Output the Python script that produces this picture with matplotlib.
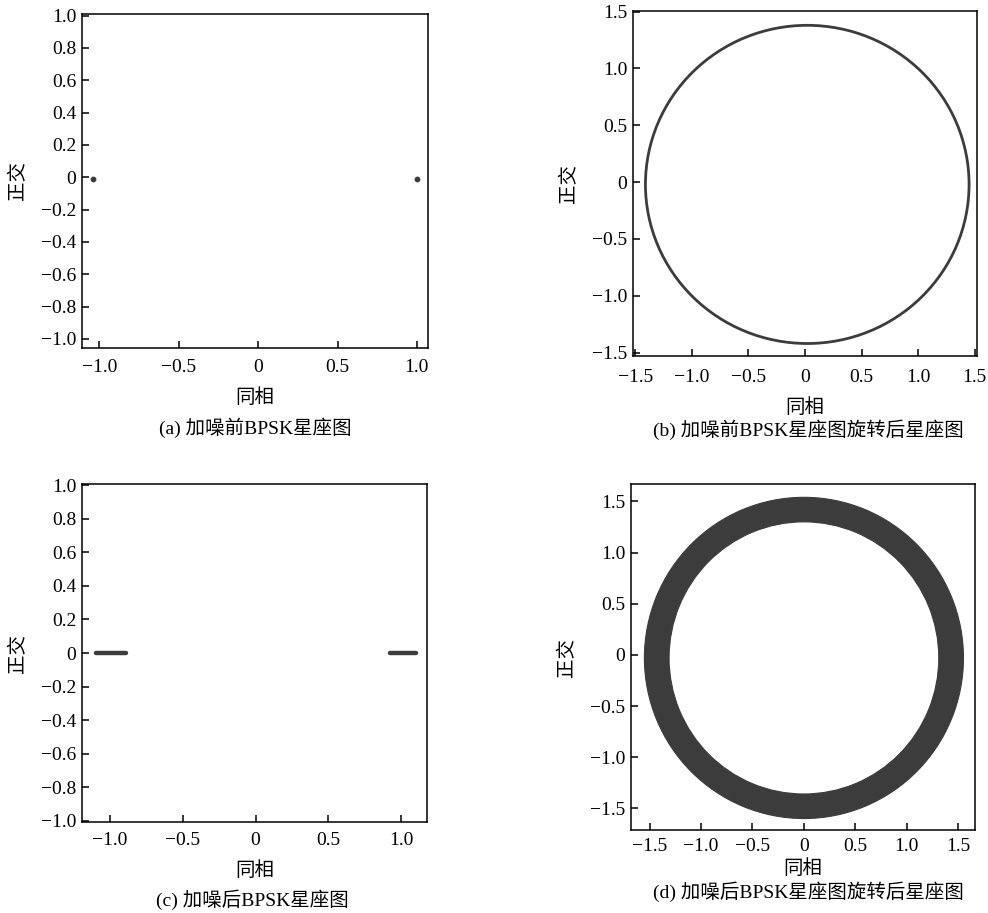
import numpy as np
import matplotlib
matplotlib.use("Agg")
import matplotlib.pyplot as plt
from matplotlib.patches import Ellipse, Annulus

plt.rcParams['font.family'] = ['Liberation Serif', 'Noto Sans CJK SC']
plt.rcParams['axes.unicode_minus'] = True

# (a) constellation points before noise
a_i = [-1.04, 1.00]
a_q = [-0.01, -0.01]

# (b) rotated constellation (ring): centre and radii
b_center = (0.02, -0.02)
b_radius = (1.43, 1.40)

# (c) noisy constellation: horizontal spread of each cluster
c_clusters = [(-1.09, -0.89), (0.92, 1.10)]
c_q = 0.0

# (d) noisy rotated constellation: annulus
d_center = (0.0, -0.03)
d_outer = (1.55, 1.57)
d_width = 0.24

xlabel = "同相"
ylabel = "正交"
captions = ["(a) 加噪前BPSK星座图", "(b) 加噪前BPSK星座图旋转后星座图",
            "(c) 加噪后BPSK星座图", "(d) 加噪后BPSK星座图旋转后星座图"]

ticks_1 = [-1.0, -0.5, 0, 0.5, 1.0]
ticks_1_lbl = ["\u22121.0", "\u22120.5", "0", "0.5", "1.0"]
yticks_1 = [-1.0, -0.8, -0.6, -0.4, -0.2, 0, 0.2, 0.4, 0.6, 0.8, 1.0]
yticks_1_lbl = ["\u22121.0", "\u22120.8", "\u22120.6", "\u22120.4", "\u22120.2", "0",
                "0.2", "0.4", "0.6", "0.8", "1.0"]
ticks_15 = [-1.5, -1.0, -0.5, 0, 0.5, 1.0, 1.5]
ticks_15_lbl = ["\u22121.5", "\u22121.0", "\u22120.5", "0", "0.5", "1.0", "1.5"]

dark = "#3c3c3c"
fs = 14

fig = plt.figure(figsize=(9.88, 9.13), dpi=100)
W, H = 988, 913


def make_ax(l, r, t, b):
    return fig.add_axes([l / W, (H - b) / H, (r - l) / W, (b - t) / H])


def style(ax, xpad=8, xlabelpad=9):
    for s in ax.spines.values():
        s.set_linewidth(1.1)
    ax.tick_params(direction="in", length=5, width=1.1, labelsize=fs,
                   top=False, right=False)
    ax.tick_params(axis="x", pad=xpad)
    ax.tick_params(axis="y", pad=4)
    ax.set_xlabel(xlabel, fontsize=fs, labelpad=xlabelpad)
    ax.set_ylabel(ylabel, fontsize=fs, labelpad=10)


ax_a = make_ax(82, 428, 14, 348)
ax_b = make_ax(633, 977, 11, 356)
ax_c = make_ax(82, 427, 484, 822)
ax_d = make_ax(631, 975, 484, 830)

# (a)
ax_a.scatter(a_i, a_q, s=10, color=dark, zorder=3)
ax_a.set_xlim(-1.11, 1.07)
ax_a.set_ylim(-1.056, 1.01)
ax_a.set_xticks(ticks_1, ticks_1_lbl)
ax_a.set_yticks(yticks_1, yticks_1_lbl)
style(ax_a)

# (b)
ax_b.add_patch(Ellipse(b_center, 2 * b_radius[0], 2 * b_radius[1],
                       fill=False, edgecolor=dark, linewidth=2.0))
ax_b.set_xlim(-1.52, 1.52)
ax_b.set_ylim(-1.53, 1.506)
ax_b.set_xticks(ticks_15, ticks_15_lbl)
ax_b.set_yticks(ticks_15, ticks_15_lbl)
style(ax_b, xpad=9)

# (c)
for x0, x1 in c_clusters:
    ax_c.plot([x0, x1], [c_q, c_q], color=dark, linewidth=3.2,
              solid_capstyle="round")
ax_c.set_xlim(-1.189, 1.175)
ax_c.set_ylim(-1.008, 1.008)
ax_c.set_xticks(ticks_1, ticks_1_lbl)
ax_c.set_yticks(yticks_1, yticks_1_lbl)
style(ax_c, xpad=7)

# (d)
ax_d.add_patch(Annulus(d_center, d_outer, d_width, facecolor=dark,
                       edgecolor=dark, linewidth=0.8))
ax_d.set_xlim(-1.68, 1.662)
ax_d.set_ylim(-1.712, 1.67)
ax_d.set_xticks(ticks_15, ticks_15_lbl)
ax_d.set_yticks(ticks_15, ticks_15_lbl)
style(ax_d, xpad=6, xlabelpad=3)

# captions
cap_pos = [(255, 428), (808, 430), (252, 900), (808, 892)]
for (cx, cy), txt in zip(cap_pos, captions):
    fig.text(cx / W, 1 - cy / H, txt, fontsize=fs, ha="center", va="center")

fig.savefig("out.png", dpi=100)
